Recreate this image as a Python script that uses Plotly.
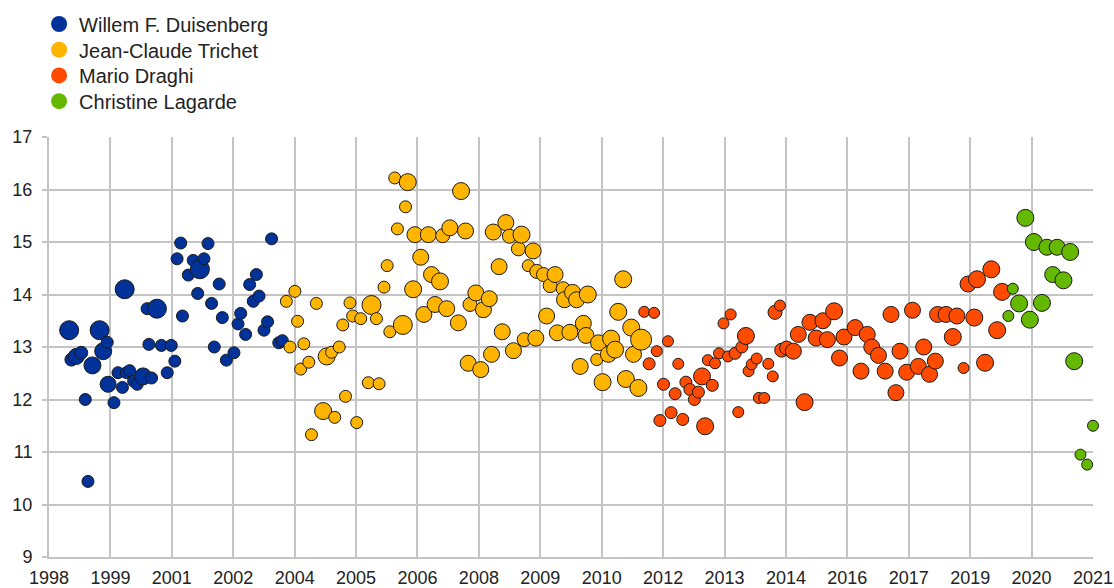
"""ECB press conference bubble chart by President."""
import plotly.graph_objects as go

# x positions as decimal years, y values, bubble sizes
duisenberg_x = [1999.01, 1999.06, 1999.17, 1999.28, 1999.37, 1999.43, 1999.53, 1999.69, 1999.77, 1999.86,
                1999.88, 2000.01, 2000.10, 2000.20, 2000.25, 2000.29, 2000.36, 2000.45, 2000.53, 2000.66,
                2000.75, 2000.79, 2000.85, 2000.97, 2001.07, 2001.20, 2001.29, 2001.37, 2001.42, 2001.50,
                2001.54, 2001.67, 2001.78, 2001.88, 2001.93, 2002.02, 2002.11, 2002.19, 2002.25, 2002.36,
                2002.43, 2002.52, 2002.69, 2002.78, 2002.84, 2002.95, 2003.04, 2003.12, 2003.19, 2003.25,
                2003.36, 2003.44, 2003.53, 2003.69, 2003.77]
duisenberg_y = [13.32, 12.76, 12.82, 12.89, 12.00, 10.44, 12.65, 13.32, 12.92, 13.09,
                12.29, 11.94, 12.51, 12.23, 14.10, 12.51, 12.55, 12.35, 12.29, 12.44,
                13.73, 13.05, 12.41, 13.73, 13.03, 12.51, 13.03, 12.73, 14.68, 14.98,
                13.59, 14.37, 14.65, 14.02, 14.48, 14.68, 14.97, 13.83, 13.00, 14.20,
                13.56, 12.75, 12.89, 13.44, 13.64, 13.24, 14.19, 13.87, 14.38, 13.97,
                13.32, 13.48, 15.06, 13.08, 13.12]
duisenberg_s = [19, 13, 16, 13, 12, 12, 17, 19, 17, 12,
                16, 12, 12, 12, 19, 12, 12, 12, 12, 17,
                12, 12, 12, 19, 12, 12, 12, 12, 12, 12,
                12, 12, 12, 12, 19, 12, 12, 12, 12, 12,
                12, 12, 12, 12, 12, 12, 12, 12, 12, 12,
                12, 12, 12, 12, 12]

trichet_x = [2003.86, 2003.94, 2004.05, 2004.11, 2004.18, 2004.25, 2004.36, 2004.42, 2004.53, 2004.68,
             2004.76, 2004.87, 2004.94, 2005.04, 2005.12, 2005.18, 2005.28, 2005.34, 2005.43, 2005.52,
             2005.69, 2005.76, 2005.87, 2005.93, 2006.04, 2006.11, 2006.17, 2006.28, 2006.34, 2006.46,
             2006.52, 2006.57, 2006.69, 2006.73, 2006.86, 2006.93, 2007.03, 2007.10, 2007.18, 2007.29,
             2007.35, 2007.44, 2007.51, 2007.70, 2007.76, 2007.86, 2007.92, 2007.96, 2008.09, 2008.20,
             2008.26, 2008.39, 2008.44, 2008.48, 2008.61, 2008.68, 2008.76, 2008.84, 2008.93, 2009.04,
             2009.11, 2009.17, 2009.26, 2009.37, 2009.43, 2009.45, 2009.60, 2009.67, 2009.75, 2009.86,
             2009.91, 2010.04, 2010.07, 2010.19, 2010.25, 2010.34, 2010.42, 2010.49, 2010.55, 2010.59,
             2010.79, 2010.83, 2010.92, 2011.05, 2011.11, 2011.20, 2011.27, 2011.38, 2011.44, 2011.56,
             2011.61, 2011.72, 2011.78]
trichet_y = [13.87, 13.00, 14.06, 13.49, 12.58, 13.06, 12.71, 11.33, 13.83, 11.78,
             12.82, 12.90, 11.66, 13.00, 13.42, 12.06, 13.84, 13.59, 11.56, 13.54,
             12.32, 13.80, 13.54, 12.30, 14.14, 14.55, 13.29, 16.22, 15.25, 13.42,
             15.67, 16.14, 14.10, 15.14, 14.71, 13.62, 15.14, 14.38, 13.81, 14.25,
             15.12, 13.73, 15.27, 13.46, 15.97, 15.21, 12.69, 13.81, 14.03, 12.57,
             13.71, 13.92, 12.86, 15.19, 14.53, 13.29, 15.37, 15.11, 12.93, 14.87,
             15.14, 13.14, 14.55, 14.83, 13.17, 14.44, 14.38, 13.59, 14.17, 14.38,
             13.27, 14.11, 13.90, 13.28, 14.04, 13.90, 12.63, 13.45, 13.22, 14.00,
             12.76, 13.08, 12.33, 12.86, 13.16, 12.95, 13.67, 14.29, 12.39, 13.37,
             12.86, 12.22, 13.14]
trichet_s = [12, 12, 12, 12, 12, 12, 12, 12, 12, 17,
             17, 12, 12, 12, 12, 12, 12, 12, 12, 12,
             12, 19, 12, 12, 12, 12, 12, 12, 12, 19,
             12, 17, 17, 16, 16, 16, 16, 16, 16, 17,
             14, 16, 16, 16, 17, 16, 16, 14, 16, 16,
             16, 16, 16, 16, 16, 16, 16, 14, 16, 14,
             17, 14, 12, 16, 16, 14, 14, 16, 14, 16,
             16, 14, 16, 16, 16, 16, 16, 16, 16, 17,
             12, 16, 17, 16, 17, 17, 17, 17, 17, 17,
             16, 17, 21]

draghi_x = [2011.85, 2011.96, 2012.07, 2012.13, 2012.20, 2012.28, 2012.38, 2012.45, 2012.54, 2012.61,
            2012.71, 2012.78, 2012.87, 2012.97, 2013.06, 2013.14, 2013.21, 2013.27, 2013.37, 2013.43,
            2013.52, 2013.62, 2013.72, 2013.78, 2013.88, 2013.95, 2014.03, 2014.12, 2014.18, 2014.25,
            2014.36, 2014.41, 2014.53, 2014.62, 2014.72, 2014.77, 2014.88, 2014.92, 2015.03, 2015.18,
            2015.29, 2015.43, 2015.55, 2015.69, 2015.84, 2015.94, 2016.09, 2016.21, 2016.31, 2016.56,
            2016.69, 2016.83, 2016.93, 2017.08, 2017.23, 2017.36, 2017.47, 2017.56, 2017.71, 2017.84,
            2017.97, 2018.09, 2018.22, 2018.35, 2018.40, 2018.59, 2018.74, 2018.83, 2018.98, 2019.08,
            2019.22, 2019.28, 2019.46, 2019.60, 2019.73, 2019.84]
draghi_y = [13.67, 12.68, 13.65, 12.92, 11.60, 12.29, 13.11, 11.75, 12.11, 12.68,
            11.62, 12.33, 12.19, 12.00, 12.14, 12.44, 11.49, 12.75, 12.27, 12.69,
            12.88, 13.45, 12.82, 13.62, 12.88, 11.76, 13.00, 13.21, 12.54, 12.67,
            12.78, 12.03, 12.03, 12.68, 12.44, 13.66, 13.79, 12.94, 12.98, 12.92,
            13.24, 11.95, 13.47, 13.17, 13.50, 13.14, 13.68, 12.79, 13.19, 13.37,
            12.54, 13.24, 13.00, 12.84, 12.54, 13.62, 12.13, 12.92, 12.52, 13.70,
            12.63, 13.00, 12.48, 12.73, 13.62, 13.62, 13.19, 13.59, 12.60, 14.20,
            13.56, 14.29, 12.70, 14.48, 13.32, 14.05]
draghi_s = [11, 12, 11, 11, 12, 12, 11, 12, 12, 11,
            12, 12, 12, 12, 12, 17, 17, 11, 12, 11,
            11, 11, 11, 11, 12, 11, 12, 17, 11, 11,
            11, 11, 11, 11, 11, 14, 11, 14, 14, 16,
            16, 17, 16, 16, 16, 16, 17, 16, 16, 16,
            16, 16, 16, 16, 16, 16, 16, 16, 16, 16,
            16, 16, 16, 16, 16, 16, 17, 16, 11, 16,
            17, 17, 17, 17, 17, 17]

lagarde_x = [2019.98, 2020.08, 2020.22, 2020.36, 2020.46, 2020.55, 2020.73, 2020.84, 2020.97, 2021.07,
             2021.21, 2021.36, 2021.45, 2021.59, 2021.74, 2021.87]
lagarde_y = [13.59, 14.11, 13.83, 15.46, 13.52, 15.00, 13.84, 14.90, 14.38, 14.90,
             14.27, 14.81, 12.73, 10.95, 10.76, 11.50]
lagarde_s = [11, 11, 17, 17, 17, 17, 17, 16, 16, 16,
             17, 17, 17, 11, 11, 11]

tick_labels = ['1998', '1999', '2001', '2002', '2004', '2005', '2006', '2008', '2009', '2010',
               '2012', '2013', '2014', '2016', '2017', '2019', '2020', '2021']

x_start, x_end = 1998.56, 2021.87
step = (x_end - x_start) / (len(tick_labels) - 1)
tick_vals = [x_start + i * step for i in range(len(tick_labels))]

series = [
    ('Willem F. Duisenberg', duisenberg_x, duisenberg_y, duisenberg_s, '#003299'),
    ('Jean-Claude Trichet', trichet_x, trichet_y, trichet_s, '#FFB400'),
    ('Mario Draghi', draghi_x, draghi_y, draghi_s, '#FF4B00'),
    ('Christine Lagarde', lagarde_x, lagarde_y, lagarde_s, '#65B800'),
]

fig = go.Figure()
for name, xs, ys, ss, color in series:
    fig.add_trace(go.Scatter(x=xs, y=ys, mode='markers', name=name, showlegend=False,
                             cliponaxis=False,
                             marker=dict(size=ss, color=color, opacity=1,
                                         line=dict(color='#1a1a1a', width=1))))

# one legend per entry so the rows can be spaced like the original
legend_layout = {}
for i, (name, xs, ys, ss, color) in enumerate(series):
    key = 'legend' if i == 0 else f'legend{i + 1}'
    fig.add_trace(go.Scatter(x=[None], y=[None], mode='markers', name=name, legend=key,
                             marker=dict(size=16, color=color)))
    legend_layout[key] = dict(x=-0.0095, y=1.269 - i * 0.0612, xanchor='left', yanchor='middle',
                              font=dict(size=20), itemsizing='trace', bgcolor='rgba(0,0,0,0)')

fig.update_layout(
    width=1114, height=588,
    margin=dict(l=49, r=21, t=137, b=31, autoexpand=False),
    paper_bgcolor='white', plot_bgcolor='white',
    font=dict(family='Arial, Liberation Sans, sans-serif', size=18, color='#222222'),
    **legend_layout,
)
fig.update_xaxes(range=[x_start, x_end], tickmode='array', tickvals=tick_vals, ticktext=tick_labels,
                 showgrid=True, gridcolor='#c4c4c4', gridwidth=2, zeroline=False,
                 showline=True, linecolor='#c4c4c4', linewidth=2, ticklabelstandoff=3, ticks='')
fig.update_yaxes(range=[9, 17], dtick=1, showgrid=True, gridcolor='#c4c4c4', gridwidth=2, zeroline=False,
                 showline=True, linecolor='#c4c4c4', linewidth=2, ticklabelstandoff=6,
                 ticks='outside', ticklen=5, tickcolor='#c4c4c4', tickwidth=2)

fig.write_html("out.html", config={'displayModeBar': False},
               post_script="document.body.style.margin='0';")
